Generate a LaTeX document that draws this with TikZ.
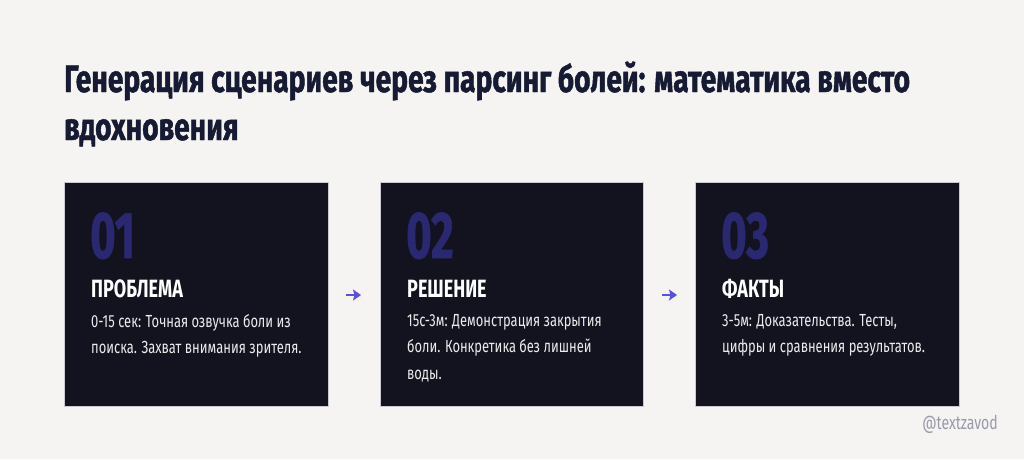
\documentclass[tikz,border=0pt]{standalone}
\usepackage{fontspec}
\setmainfont[FakeStretch=0.74]{Fira Sans}
\newfontfamily\titlefont[FakeStretch=0.742,FakeBold=1.2]{Fira Sans Bold}
\newfontfamily\numfont[FakeStretch=0.66,FakeBold=1]{Fira Sans Bold}
\newfontfamily\headfont[FakeStretch=0.72]{Fira Sans Bold}
\usetikzlibrary{arrows.meta}
\definecolor{bg}{HTML}{F5F4F2}
\definecolor{card}{HTML}{12131F}
\definecolor{cardline}{HTML}{C9C9CF}
\definecolor{titlec}{HTML}{161B33}
\definecolor{numc}{HTML}{2A2870}
\definecolor{arrowc}{HTML}{5A4FE0}
\definecolor{markc}{HTML}{9A9AAA}
\tikzset{
  cardbox/.style={fill=card, draw=cardline, line width=0.6pt},
  numtext/.style={anchor=base west, text=numc, font=\numfont\fontsize{66}{66}\selectfont, inner sep=0},
  headtext/.style={anchor=base west, text=white, font=\headfont\fontsize{25}{25}\selectfont, inner sep=0},
  bodytext/.style={anchor=north west, text=white!92!black, align=left, font=\fontsize{17.5}{26.5}\selectfont, inner sep=0},
  flowarrow/.style={-{Stealth[length=8pt,width=11pt,inset=1.5pt]}, draw=arrowc, line width=2.6pt},
}
\begin{document}
\begin{tikzpicture}[x=1pt,y=-1pt]
\fill[bg] (0,0) rectangle (1024,459);
\useasboundingbox (0,0) rectangle (1024,459);
\node[anchor=base west, inner sep=0, text=titlec, font=\titlefont\fontsize{38}{48}\selectfont, align=left] (title) at (64,140)
  {Генерация сценариев через парсинг болей: математика вместо\\вдохновения};
% cards
\draw[cardbox] (64,182) rectangle (328,406);
\draw[cardbox] (380,182) rectangle (643,406);
\draw[cardbox] (695,182) rectangle (959,406);
% card 1
\node[numtext] (n1) at (90,258) {01};
\node[headtext] (h1) at (91,297) {ПРОБЛЕМА};
\node[bodytext] (b1) at (91,314) {0-15 сек: Точная озвучка боли из\\поиска. Захват внимания зрителя.};
% card 2
\node[numtext] (n2) at (406,258) {02};
\node[headtext] (h2) at (407,297) {РЕШЕНИЕ};
\node[bodytext] (b2) at (407,314) {15с-3м: Демонстрация закрытия\\боли. Конкретика без лишней\\воды.};
% card 3
\node[numtext] (n3) at (721,258) {03};
\node[headtext] (h3) at (722,297) {ФАКТЫ};
\node[bodytext] (b3) at (722,314) {3-5м: Доказательства. Тесты,\\цифры и сравнения результатов.};
% arrows
\coordinate (a1s) at (346,295);
\coordinate (a1e) at (361,295);
\coordinate (a2s) at (662,295);
\coordinate (a2e) at (677,295);
\draw[flowarrow] (a1s) -- (a1e);
\draw[flowarrow] (a2s) -- (a2e);
% watermark
\node[anchor=base east, inner sep=0, text=markc, font=\fontsize{19}{19}\selectfont] (mark) at (998,429) {@textzavod};
\end{tikzpicture}
\end{document}
